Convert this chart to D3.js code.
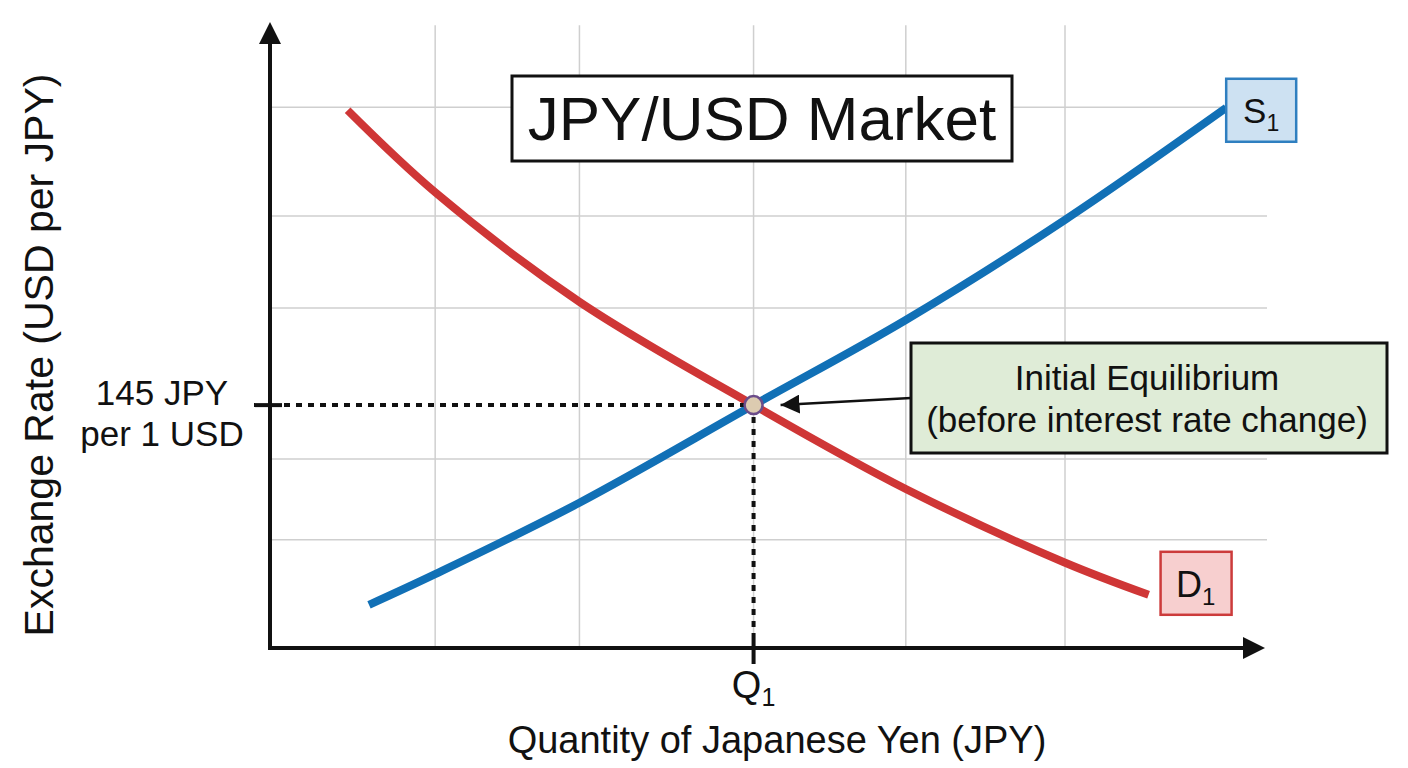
<!DOCTYPE html>
<html>
<head>
<meta charset="utf-8">
<script src="https://cdn.jsdelivr.net/npm/d3@7"></script>
<style>
  body { margin: 0; background: #fff; }
  text { font-family: "Liberation Sans", Arial, sans-serif; fill: #111; }
</style>
</head>
<body>
<script>
// JPY/USD market: supply and demand curves with the initial equilibrium

// curve points (quantity 0-100, rate 0-100 in axis units)
const supplyQ = [9.95, 16.6, 31.1, 48.6, 63.9, 79.9, 96.1];
const supplyP = [6.9, 11.8, 23.2, 38.8, 52.4, 68.4, 86.3];
const demandQ = [7.8, 16.6, 31.1, 48.6, 63.9, 79.8, 88.3];
const demandP = [85.9, 72.8, 55.3, 38.8, 25.4, 13.7, 8.5];

const gridQ = [16.6, 31.1, 48.6, 63.9, 79.9];
const gridP = [17.3, 30.2, 54.3, 69.0, 86.4];

const eqQ = 48.6;
const eqP = 38.8;

const priceLabel = ["145 JPY", "per 1 USD"];
const quantityLabel = ["Q", "1"];
const supplyLabel = ["S", "1"];
const demandLabel = ["D", "1"];
const title = "JPY/USD Market";
const noteLines = ["Initial Equilibrium", "(before interest rate change)"];
const xTitle = "Quantity of Japanese Yen (JPY)";
const yTitle = "Exchange Rate (USD per JPY)";

const width = 1408;
const height = 768;

const x = d3.scaleLinear().domain([0, 100]).range([270, 1265]);
const y = d3.scaleLinear().domain([0, 100]).range([648, 22]);

const svg = d3.select("body").append("svg").attr("width", width).attr("height", height);

// grid
svg
  .append("g")
  .selectAll("line")
  .data(gridQ)
  .enter()
  .append("line")
  .attr("x1", (d) => x(d))
  .attr("x2", (d) => x(d))
  .attr("y1", y(99.5))
  .attr("y2", y(0))
  .attr("stroke", "#cfcfcf")
  .attr("stroke-width", 1.5);

svg
  .append("g")
  .selectAll("line")
  .data(gridP)
  .enter()
  .append("line")
  .attr("x1", x(0))
  .attr("x2", x(100.2))
  .attr("y1", (d) => y(d))
  .attr("y2", (d) => y(d))
  .attr("stroke", "#cfcfcf")
  .attr("stroke-width", 1.5);

// title box
svg.append("rect").attr("x", 512).attr("y", 76).attr("width", 500).attr("height", 85).attr("fill", "#fff").attr("stroke", "#111").attr("stroke-width", 3);
svg.append("text").attr("x", 762).attr("y", 140).attr("text-anchor", "middle").style("font-size", "62px").text(title);

// curves
const line = d3
  .line()
  .x((d) => x(d[0]))
  .y((d) => y(d[1]))
  .curve(d3.curveCatmullRom.alpha(0.5));

const supply = supplyQ.map((q, i) => [q, supplyP[i]]);
const demand = demandQ.map((q, i) => [q, demandP[i]]);

svg.append("path").datum(demand).attr("d", line).attr("fill", "none").attr("stroke", "#cf3636").attr("stroke-width", 8);
svg.append("path").datum(supply).attr("d", line).attr("fill", "none").attr("stroke", "#1170b6").attr("stroke-width", 8);

// dotted guides to the axes
svg.append("line").attr("x1", x(0) + 14).attr("x2", x(eqQ)).attr("y1", y(eqP)).attr("y2", y(eqP)).attr("stroke", "#111").attr("stroke-width", 4).attr("stroke-dasharray", "6,6");
svg.append("line").attr("x1", x(eqQ)).attr("x2", x(eqQ)).attr("y1", y(eqP) + 12).attr("y2", y(0) - 14).attr("stroke", "#111").attr("stroke-width", 4).attr("stroke-dasharray", "6,6");

// axes with arrow heads
svg.append("line").attr("x1", x(0)).attr("x2", x(0)).attr("y1", y(0) + 2).attr("y2", y(100) + 20).attr("stroke", "#111").attr("stroke-width", 4);
svg.append("line").attr("x1", x(0) - 2).attr("x2", x(100) - 20).attr("y1", y(0)).attr("y2", y(0)).attr("stroke", "#111").attr("stroke-width", 4);
svg
  .append("path")
  .attr("d", `M${x(0)},${y(100)} L${x(0) - 11},${y(100) + 22} L${x(0) + 11},${y(100) + 22} Z`)
  .attr("fill", "#111");
svg
  .append("path")
  .attr("d", `M${x(100)},${y(0)} L${x(100) - 22},${y(0) - 11} L${x(100) - 22},${y(0) + 11} Z`)
  .attr("fill", "#111");

// ticks at the equilibrium
svg.append("line").attr("x1", x(0) - 16).attr("x2", x(0) + 12).attr("y1", y(eqP)).attr("y2", y(eqP)).attr("stroke", "#111").attr("stroke-width", 4);
svg.append("line").attr("x1", x(eqQ)).attr("x2", x(eqQ)).attr("y1", y(0) - 14).attr("y2", y(0) + 16).attr("stroke", "#111").attr("stroke-width", 4);

// price label
svg
  .append("text")
  .attr("text-anchor", "middle")
  .style("font-size", "35px")
  .selectAll("tspan")
  .data(priceLabel)
  .enter()
  .append("tspan")
  .attr("x", 162)
  .attr("y", (d, i) => y(eqP) + i * 41)
  .text((d) => d);

// Q1 label
const qText = svg.append("text").attr("x", x(eqQ)).attr("y", 698).attr("text-anchor", "middle").style("font-size", "38px");
qText.append("tspan").text(quantityLabel[0]);
qText.append("tspan").attr("dy", 8).style("font-size", "25px").text(quantityLabel[1]);

// axis titles
svg.append("text").attr("x", 777).attr("y", 753).attr("text-anchor", "middle").style("font-size", "38px").text(xTitle);
svg
  .append("text")
  .attr("transform", "translate(53,355) rotate(-90)")
  .attr("text-anchor", "middle")
  .style("font-size", "41px")
  .text(yTitle);

// annotation arrow to the equilibrium
svg
  .append("defs")
  .append("marker")
  .attr("id", "head")
  .attr("viewBox", "0 0 10 10")
  .attr("refX", 10)
  .attr("refY", 5)
  .attr("markerUnits", "userSpaceOnUse")
  .attr("markerWidth", 19)
  .attr("markerHeight", 19)
  .attr("orient", "auto")
  .append("path")
  .attr("d", "M0,0 L10,5 L0,10 Z")
  .attr("fill", "#111");

svg
  .append("line")
  .attr("x1", 911)
  .attr("y1", 398)
  .attr("x2", x(eqQ) + 27)
  .attr("y2", y(eqP))
  .attr("stroke", "#111")
  .attr("stroke-width", 2.5)
  .attr("marker-end", "url(#head)");

svg.append("rect").attr("x", 911).attr("y", 343).attr("width", 476).attr("height", 110).attr("fill", "#dfecd7").attr("stroke", "#111").attr("stroke-width", 3);
svg
  .append("text")
  .attr("text-anchor", "middle")
  .style("font-size", "35px")
  .selectAll("tspan")
  .data(noteLines)
  .enter()
  .append("tspan")
  .attr("x", 1147)
  .attr("y", (d, i) => 390 + i * 42)
  .text((d) => d);

// equilibrium point
svg.append("circle").attr("cx", x(eqQ)).attr("cy", y(eqP)).attr("r", 9).attr("fill", "#dccbb0").attr("stroke", "#6b4c8a").attr("stroke-width", 2.5);

// curve labels
const sEnd = supply[supply.length - 1];
svg.append("rect").attr("x", x(sEnd[0])).attr("y", y(sEnd[1]) - 29).attr("width", 70).attr("height", 63).attr("fill", "#cde1f2").attr("stroke", "#2f7fc0").attr("stroke-width", 2.5);
const sText = svg.append("text").attr("x", x(sEnd[0]) + 35).attr("y", y(sEnd[1]) + 15).attr("text-anchor", "middle").style("font-size", "35px");
sText.append("tspan").text(supplyLabel[0]);
sText.append("tspan").attr("dy", 8).style("font-size", "23px").text(supplyLabel[1]);

const dEnd = demand[demand.length - 1];
svg.append("rect").attr("x", x(dEnd[0]) + 12).attr("y", y(dEnd[1]) - 43).attr("width", 71).attr("height", 63).attr("fill", "#f7cfcf").attr("stroke", "#cc3b3b").attr("stroke-width", 2.5);
const dText = svg.append("text").attr("x", x(dEnd[0]) + 47).attr("y", y(dEnd[1]) + 2).attr("text-anchor", "middle").style("font-size", "36px");
dText.append("tspan").text(demandLabel[0]);
dText.append("tspan").attr("dy", 8).style("font-size", "24px").text(demandLabel[1]);
</script>
</body>
</html>
